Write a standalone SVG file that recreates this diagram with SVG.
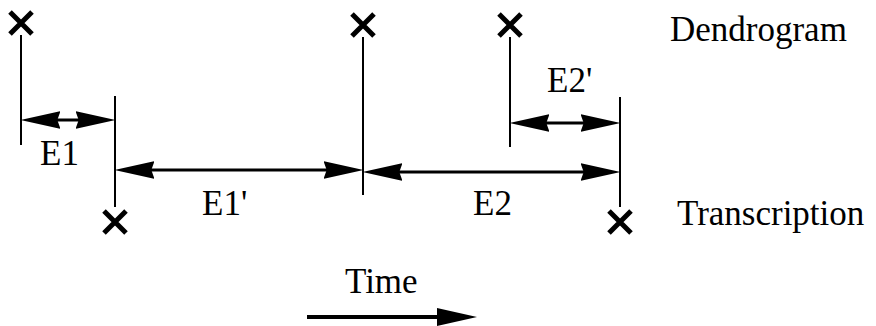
<svg xmlns="http://www.w3.org/2000/svg" width="876" height="326" viewBox="0 0 876 326">
<defs>
<marker id="ah" markerUnits="userSpaceOnUse" markerWidth="40" markerHeight="20" viewBox="0 0 38 17" refX="28" refY="8.5" orient="auto-start-reverse">
<path d="M0,0 L38,8.5 L0,17 L3,8.5 z" fill="#000"/>
</marker>
</defs>
<style>
.v{stroke:#000;stroke-width:2;fill:none}
.x{stroke:#000;stroke-width:5;stroke-linecap:butt;fill:none}
.a{stroke:#000;stroke-width:3;fill:none;marker-start:url(#ah);marker-end:url(#ah)}
</style>
<rect width="876" height="326" fill="#fff"/>
<g id="event-d1">
<path class="x" d="M10,12 L32,34 M32,12 L10,34"/>
<line class="v" x1="21" y1="35" x2="21" y2="145"/>
</g>
<g id="event-t1">
<line class="v" x1="115" y1="96" x2="115" y2="207"/>
<path class="x" d="M104,211 L126,233 M126,211 L104,233"/>
</g>
<g id="event-mid">
<path class="x" d="M352,14 L374,36 M374,14 L352,36"/>
<line class="v" x1="363" y1="37" x2="363" y2="195"/>
</g>
<g id="event-d2">
<path class="x" d="M499,14 L521,36 M521,14 L499,36"/>
<line class="v" x1="510" y1="37" x2="510" y2="147"/>
</g>
<g id="event-t2">
<line class="v" x1="620" y1="97" x2="620" y2="207"/>
<path class="x" d="M609,211 L631,233 M631,211 L609,233"/>
</g>
<g id="connectors">
<line class="a" x1="31" y1="120" x2="105" y2="120"/>
<line class="a" x1="125" y1="170" x2="353" y2="170"/>
<line class="a" x1="373" y1="172" x2="610" y2="172"/>
<line class="a" x1="520" y1="123" x2="610" y2="123"/>
<line x1="307" y1="317" x2="445" y2="317" stroke="#000" stroke-width="4"/>
<path d="M437,308 L477,317 L437,326 z" fill="#000"/>
</g>
<g id="labels" font-family="'Liberation Serif', 'DejaVu Serif', 'Times New Roman', serif" font-size="35" fill="#000">
<text x="40" y="165">E1</text>
<text x="202" y="215">E1'</text>
<text x="473" y="215">E2</text>
<text x="547" y="92">E2'</text>
<text x="670" y="41">Dendrogram</text>
<text x="677" y="225">Transcription</text>
<text x="345" y="293">Time</text>
</g>
</svg>
